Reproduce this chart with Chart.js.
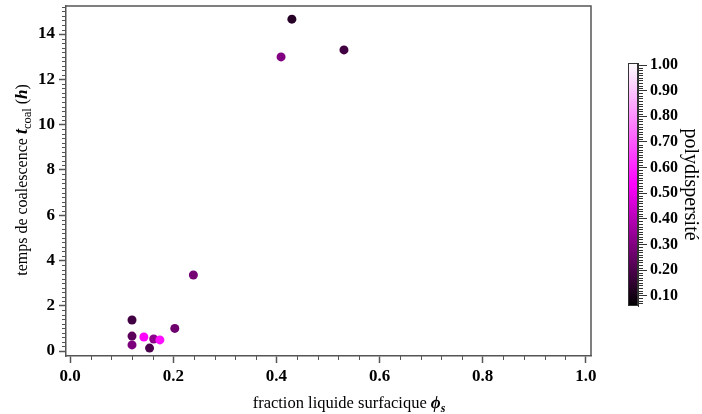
<!DOCTYPE html>
<html>
<head>
<meta charset="utf-8">
<script src="https://cdn.jsdelivr.net/npm/chart.js@4.4.0/dist/chart.umd.min.js"></script>
<style>
  body { margin: 0; background: #fff; }
  #main { position: absolute; left: 0; top: 0; }
  #cbar { position: absolute; left: 600px; top: 0; }
</style>
</head>
<body>
<canvas id="main" width="702" height="414"></canvas>
<canvas id="cbar" width="102" height="414"></canvas>
<script>
// donnees
var phiS  = [0.120, 0.120, 0.120, 0.143, 0.154, 0.162, 0.174, 0.203, 0.239, 0.409, 0.430, 0.531];
var tCoal = [1.37, 0.66, 0.27, 0.62, 0.13, 0.53, 0.49, 1.00, 3.36, 12.99, 14.66, 13.30];
var poly  = [0.18, 0.23, 0.29, 0.54, 0.20, 0.32, 0.56, 0.265, 0.275, 0.30, 0.13, 0.18];

var xTicks  = [0, 0.2, 0.4, 0.6, 0.8, 1.0];
var yTicks  = [0, 2, 4, 6, 8, 10, 12, 14];
var cbTicks = [0.1, 0.2, 0.3, 0.4, 0.5, 0.6, 0.7, 0.8, 0.9, 1.0];

var cbMin = 0.06, cbMax = 1.008;
var cmapPos = [0, 0.5, 1];
var cmapCol = [[0, 0, 0], [255, 0, 255], [255, 255, 255]];

var serif = "'Liberation Serif', 'DejaVu Serif', serif";
var axisCol = '#555';

function couleur(v){
    var t = (v - cbMin) / (cbMax - cbMin);
    t = Math.max(0, Math.min(1, t));
    for(var i = 1; i < cmapPos.length; i++){
        if(t <= cmapPos[i]){
            var f = (t - cmapPos[i-1]) / (cmapPos[i] - cmapPos[i-1]);
            var c = [];
            for(var k = 0; k < 3; k++){
                c.push(Math.round(cmapCol[i-1][k] + f * (cmapCol[i][k] - cmapCol[i-1][k])));
            }
            return 'rgb(' + c[0] + ',' + c[1] + ',' + c[2] + ')';
        }
    }
    return 'rgb(255,255,255)';
}

// texte avec italique / indice
function texteRiche(ctx, parts, x, y, rot){
    ctx.save();
    ctx.translate(x, y);
    ctx.rotate(rot);
    ctx.textBaseline = 'alphabetic';
    var total = 0;
    parts.forEach(function(p){
        ctx.font = p.font;
        p.w = ctx.measureText(p.t).width;
        total += p.w;
    });
    var cx = -total / 2;
    parts.forEach(function(p){
        ctx.font = p.font;
        ctx.fillStyle = '#000';
        ctx.fillText(p.t, cx, p.dy || 0);
        cx += p.w;
    });
    ctx.restore();
}

var pluginCadre = {
    id: 'cadre',
    afterDraw: function(chart){
        var ctx = chart.ctx;
        var a = chart.chartArea;
        var sx = chart.scales.x, sy = chart.scales.y;
        ctx.save();
        ctx.strokeStyle = axisCol;
        ctx.lineWidth = 1.5;
        ctx.beginPath();
        ctx.moveTo(a.left, a.top); ctx.lineTo(a.right, a.top); ctx.lineTo(a.right, a.bottom);
        ctx.stroke();
        // petites graduations
        ctx.lineWidth = 1;
        ctx.beginPath();
        for(var i = 0; i <= 25; i++){
            if(i % 5 == 0) continue;
            var px = Math.round(sx.getPixelForValue(i * 0.04)) + 0.5;
            ctx.moveTo(px, a.bottom); ctx.lineTo(px, a.bottom + 4);
        }
        for(var j = 0; j <= 76; j++){
            if(j % 10 == 0) continue;
            var py = Math.round(sy.getPixelForValue(j * 0.2)) + 0.5;
            ctx.moveTo(a.left, py); ctx.lineTo(a.left - 4, py);
        }
        ctx.stroke();
        ctx.restore();

        var f = '16.5px ' + serif;
        texteRiche(ctx, [
            {t: 'fraction liquide surfacique ', font: f},
            {t: 'ϕ', font: 'italic bold 17px ' + serif},
            {t: 's', font: 'italic bold 12px ' + serif, dy: 4}
        ], 349, 408, 0);
        texteRiche(ctx, [
            {t: 'temps de coalescence ', font: '16px ' + serif},
            {t: 't', font: 'italic bold 18px ' + serif},
            {t: 'coal', font: '12.5px ' + serif, dy: 4},
            {t: ' (', font: '16px ' + serif},
            {t: 'h', font: 'italic bold 17px ' + serif},
            {t: ')', font: '16px ' + serif}
        ], 27, 180, -Math.PI / 2);
    }
};

var points = [];
var couleurs = [];
for(var i = 0; i < phiS.length; i++){
    points.push({x: phiS[i], y: tCoal[i]});
    couleurs.push(couleur(poly[i]));
}

var tickFont = {family: serif, size: 17, weight: 'bold'};

new Chart(document.getElementById('main').getContext('2d'), {
    type: 'scatter',
    data: {
        datasets: [{
            data: points,
            pointBackgroundColor: couleurs,
            pointBorderWidth: 0,
            pointRadius: 4.5
        }]
    },
    options: {
        responsive: false,
        animation: false,
        layout: {padding: {top: 6, right: 111, left: 0, bottom: 0}},
        plugins: {legend: {display: false}, tooltip: {enabled: false}},
        scales: {
            x: {
                type: 'linear', min: -0.008, max: 1.01,
                afterBuildTicks: function(s){ s.ticks = xTicks.map(function(v){ return {value: v}; }); },
                afterFit: function(s){ s.height = 58; },
                ticks: {font: tickFont, color: '#000', padding: 3, maxRotation: 0,
                    callback: function(v){ return v.toFixed(1); }},
                grid: {drawOnChartArea: false, tickLength: 7, tickColor: axisCol, tickWidth: 1.5},
                border: {color: axisCol, width: 1.5}
            },
            y: {
                type: 'linear', min: -0.22, max: 15.24,
                afterBuildTicks: function(s){ s.ticks = yTicks.map(function(v){ return {value: v}; }); },
                afterFit: function(s){ s.width = 66; s.paddingTop = 0; s.paddingBottom = 0; },
                ticks: {font: tickFont, color: '#000', padding: 4,
                    callback: function(v){ return String(v); }},
                grid: {drawOnChartArea: false, tickLength: 7, tickColor: axisCol, tickWidth: 1.5},
                border: {color: axisCol, width: 1.5}
            }
        }
    },
    plugins: [pluginCadre]
});

// barre de couleur
function degrade(context){
    var chart = context.chart;
    var a = chart.chartArea;
    if(!a) return null;
    var g = chart.ctx.createLinearGradient(0, a.bottom, 0, a.top);
    for(var i = 0; i < cmapPos.length; i++){
        var c = cmapCol[i];
        g.addColorStop(cmapPos[i], 'rgb(' + c[0] + ',' + c[1] + ',' + c[2] + ')');
    }
    return g;
}

var pluginMinor = {
    id: 'minor',
    afterDraw: function(chart){
        var ctx = chart.ctx;
        var a = chart.chartArea;
        var sy = chart.scales.y;
        ctx.save();
        ctx.strokeStyle = '#333';
        ctx.lineWidth = 1;
        ctx.beginPath();
        for(var i = 7; i <= 100; i++){
            if(i % 10 == 0) continue;
            var py = Math.round(sy.getPixelForValue(i / 100)) + 0.5;
            ctx.moveTo(a.right, py); ctx.lineTo(a.right + 5, py);
        }
        ctx.stroke();
        ctx.strokeRect(a.left + 0.5, a.top + 0.5, a.right - a.left - 1, a.bottom - a.top - 1);
        ctx.restore();
    }
};

new Chart(document.getElementById('cbar').getContext('2d'), {
    type: 'bar',
    data: {
        labels: [''],
        datasets: [{
            data: [[cbMin, cbMax]],
            backgroundColor: degrade,
            borderWidth: 0,
            barPercentage: 1,
            categoryPercentage: 1
        }]
    },
    options: {
        responsive: false,
        animation: false,
        layout: {padding: {top: 63, bottom: 108, left: 28, right: 0}},
        plugins: {legend: {display: false}, tooltip: {enabled: false}},
        scales: {
            x: {display: false},
            y: {
                position: 'right', min: cbMin, max: cbMax,
                afterBuildTicks: function(s){ s.ticks = cbTicks.map(function(v){ return {value: v}; }); },
                afterFit: function(s){ s.width = 64; },
                ticks: {font: {family: serif, size: 16, weight: 'bold'}, color: '#000', padding: 3,
                    callback: function(v){ return v.toFixed(2); }},
                grid: {drawOnChartArea: false, tickLength: 9, tickColor: '#333'},
                border: {color: '#333'},
                title: {display: true, text: 'polydispersité', color: '#000',
                    font: {family: serif, size: 20}, padding: 0}
            }
        }
    },
    plugins: [pluginMinor]
});
</script>
</body>
</html>
